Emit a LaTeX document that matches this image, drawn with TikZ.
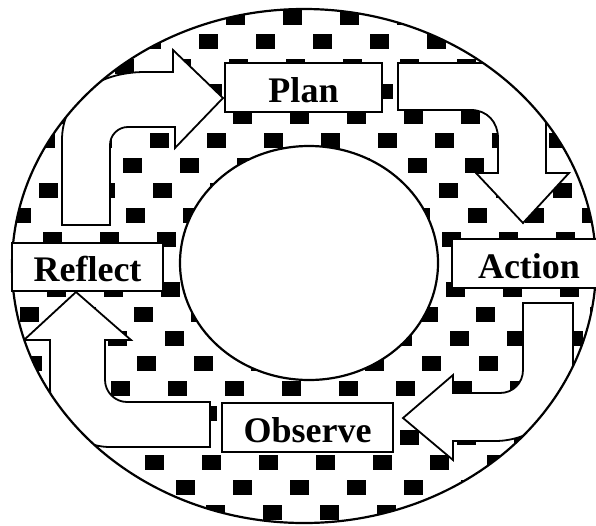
\documentclass[tikz,border=0pt]{standalone}
\usepackage{fontspec}
\setmainfont{Liberation Serif}
\begin{document}
\begin{tikzpicture}[x=1pt,y=-1pt,
  stage/.style={draw, line width=2pt, fill=white, inner sep=0pt,
    text height=29pt, text depth=0pt, font=\bfseries\fontsize{36}{40}\selectfont},
  blockarrow/.style={draw, line width=1.8pt, fill=white, line join=miter},
  ring/.style={line width=2.2pt},
  blob/.style={fill=black}]
\useasboundingbox (0,0) rectangle (596,525);
\begin{scope}
  \clip (304,266) ellipse [x radius=292pt, y radius=257pt];
  % dotted texture of the ring
  \foreach \r in {0,...,20}{
    \foreach \c in {-1,...,11}{
      \pgfmathsetmacro{\yy}{17+24.75*\r}
      \pgfmathsetmacro{\xx}{7+29*mod(\r,2)+0.075*(\yy-17)+57*\c}
      \fill[blob] ({\xx-9.5},{\yy-7.5}) rectangle ++(19,15);
    }
  }
  \fill[white] (309,263) ellipse [x radius=129pt, y radius=117pt];
  % Reflect -> Plan
  \draw[blockarrow] (62,225) -- (62,140) .. controls (62,100) and (95,72) .. (145,72)
    -- (173,72) -- (173,50) -- (223,98) -- (175,148) -- (175,127) -- (128,127)
    .. controls (118,127) and (110,135) .. (110,145) -- (110,225) -- cycle;
  % Plan -> Action
  \draw[blockarrow] (398,63) -- (483,63) .. controls (518,63) and (546,91) .. (546,126)
    -- (546,173) -- (569,173) -- (523,223) -- (476,173) -- (498,173) -- (498,138)
    .. controls (498,122) and (487,110) .. (471,110) -- (398,110) -- cycle;
  % Action -> Observe
  \draw[blockarrow] (523,303) -- (573,303) -- (573,363) .. controls (573,406) and (538,441) .. (495,441)
    -- (453,441) -- (453,460) -- (403,418) -- (453,375) -- (453,393) -- (500,393)
    .. controls (513,393) and (523,383) .. (523,370) -- cycle;
  % Observe -> Reflect
  \draw[blockarrow] (210,402) -- (127,402) .. controls (115,402) and (105,392) .. (105,380)
    -- (105,340) -- (131,340) -- (76,292) -- (24,340) -- (50,340) -- (50,387)
    .. controls (50,420) and (77,447) .. (110,447) -- (210,447) -- cycle;
\end{scope}
\draw[ring] (309,263) ellipse [x radius=129pt, y radius=117pt];
\draw[ring] (304,266) ellipse [x radius=292pt, y radius=257pt];
\node[stage, minimum width=157pt, minimum height=49pt] (plan) at (303.5,87.5) {Plan};
\node[stage, minimum width=154pt, minimum height=49pt] (action) at (529,263.5) {Action};
\node[stage, minimum width=171pt, minimum height=49pt] (observe) at (307.5,427.5) {Observe};
\node[stage, minimum width=151pt, minimum height=48pt] (reflect) at (87.5,267) {Reflect};
\end{tikzpicture}
\end{document}
